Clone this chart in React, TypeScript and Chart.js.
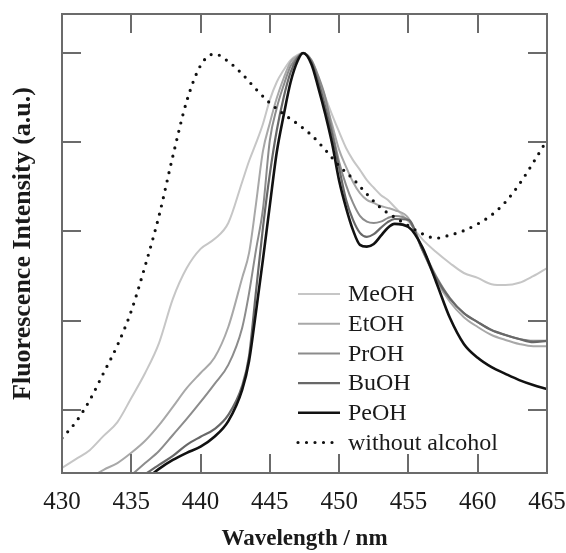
import React, { useEffect, useRef } from "react";
import { Chart, registerables } from "chart.js";

Chart.register(...registerables);

// Wavelength grid (nm) shared by the alcohol spectra
const wavelengths = [
  430, 431, 432, 433, 434, 435, 436, 437, 438, 439, 440, 441, 442, 443, 443.5, 444, 444.5, 445, 445.5, 446,
  446.5, 447, 447.4, 448, 448.5, 449, 449.5, 450, 450.5, 451, 451.5, 452, 452.5, 453, 453.5, 454, 455, 456,
  457, 458, 459, 460, 461, 462, 463, 464, 465,
];

const meoh = [
  0.07, 0.09, 0.11, 0.142, 0.173, 0.227, 0.283, 0.35, 0.449, 0.518, 0.561, 0.583, 0.619, 0.711, 0.758, 0.798,
  0.841, 0.895, 0.935, 0.962, 0.984, 0.996, 1.0, 0.98, 0.944, 0.901, 0.861, 0.823, 0.787, 0.76, 0.738, 0.715,
  0.698, 0.682, 0.671, 0.655, 0.622, 0.583, 0.554, 0.529, 0.507, 0.496, 0.482, 0.48, 0.485, 0.5, 0.518,
];

const etoh = [
  null, null, 0.048, 0.066, 0.081, 0.104, 0.131, 0.166, 0.207, 0.249, 0.283, 0.317, 0.386, 0.496, 0.552, 0.662,
  0.78, 0.843, 0.899, 0.944, 0.98, 0.993, 1.0, 0.984, 0.944, 0.895, 0.839, 0.783, 0.745, 0.711, 0.686, 0.671,
  0.664, 0.657, 0.653, 0.648, 0.63, 0.559, 0.491, 0.442, 0.408, 0.386, 0.368, 0.357, 0.348, 0.343, 0.343,
];

const proh = [
  null, null, null, null, null, 0.054, 0.081, 0.108, 0.144, 0.18, 0.218, 0.258, 0.301, 0.384, 0.462, 0.559,
  0.65, 0.805, 0.877, 0.928, 0.971, 0.991, 1.0, 0.984, 0.948, 0.901, 0.827, 0.756, 0.704, 0.664, 0.635, 0.622,
  0.619, 0.622, 0.63, 0.635, 0.626, 0.563, 0.5, 0.451, 0.417, 0.397, 0.379, 0.368, 0.359, 0.355, 0.355,
];

const buoh = [
  null, null, null, null, null, null, 0.056, 0.077, 0.097, 0.122, 0.14, 0.157, 0.189, 0.254, 0.321, 0.466,
  0.608, 0.729, 0.827, 0.901, 0.957, 0.989, 1.0, 0.98, 0.935, 0.879, 0.816, 0.742, 0.671, 0.626, 0.597, 0.588,
  0.594, 0.608, 0.621, 0.628, 0.626, 0.559, 0.496, 0.449, 0.417, 0.397, 0.379, 0.368, 0.359, 0.352, 0.355,
];

const peoh = [
  null, null, null, null, null, null, 0.043, 0.068, 0.088, 0.104, 0.118, 0.14, 0.175, 0.245, 0.31, 0.42,
  0.537, 0.659, 0.778, 0.861, 0.935, 0.982, 1.0, 0.975, 0.922, 0.863, 0.796, 0.714, 0.653, 0.603, 0.57, 0.566,
  0.572, 0.59, 0.608, 0.617, 0.61, 0.565, 0.487, 0.406, 0.348, 0.317, 0.296, 0.281, 0.267, 0.256, 0.247,
];

// Spectrum without alcohol (1 nm grid)
const noAlcoholWavelengths = [
  430, 431, 432, 433, 434, 435, 436, 437, 438, 439, 440, 441, 442, 443, 444, 445, 446, 447, 448, 449, 450, 451,
  452, 453, 454, 455, 456, 457, 458, 459, 460, 461, 462, 463, 464, 465,
];
const noAlcohol = [
  0.137, 0.173, 0.222, 0.283, 0.345, 0.422, 0.523, 0.635, 0.769, 0.892, 0.972, 0.998, 0.981, 0.953, 0.919,
  0.888, 0.863, 0.841, 0.816, 0.783, 0.747, 0.718, 0.684, 0.653, 0.632, 0.613, 0.595, 0.585, 0.592, 0.602,
  0.617, 0.637, 0.666, 0.706, 0.754, 0.805,
];

const seriesLabels = ["MeOH", "EtOH", "PrOH", "BuOH", "PeOH", "without alcohol"];
const yTicks = [0.2, 0.4, 0.6, 0.8, 1.0];
const xTickStep = 5;

const SERIF = '"Liberation Serif", "Times New Roman", Times, serif';

function pairs(xs: number[], ys: (number | null)[]) {
  return xs.map((x, i) => ({ x, y: ys[i] }));
}

const framePlugin = {
  id: "frameTicks",
  afterDatasetsDraw(chart: any) {
    const { ctx, chartArea, scales } = chart;
    const { left, right, top, bottom } = chartArea;
    const xs = scales.x;
    const ys = scales.y;
    const len = 19;
    ctx.save();
    ctx.strokeStyle = "#6b6b6b";
    ctx.lineWidth = 2;
    ctx.beginPath();
    xs.ticks.forEach((t: any) => {
      if (t.value <= xs.min || t.value >= xs.max) return;
      const px = Math.round(xs.getPixelForValue(t.value));
      ctx.moveTo(px, bottom);
      ctx.lineTo(px, bottom - len);
      ctx.moveTo(px, top);
      ctx.lineTo(px, top + len);
    });
    ys.ticks.forEach((t: any) => {
      const py = Math.round(ys.getPixelForValue(t.value));
      ctx.moveTo(left, py);
      ctx.lineTo(left + len, py);
      ctx.moveTo(right, py);
      ctx.lineTo(right - len, py);
    });
    ctx.stroke();
    ctx.strokeRect(left, top, right - left, bottom - top);
    ctx.restore();
  },
};

const legendPlugin = {
  id: "insideLegend",
  afterDraw(chart: any) {
    const { ctx, chartArea } = chart;
    const x0 = chartArea.left + 236;
    const y0 = chartArea.top + 280;
    const rowH = 29.7;
    const lineLen = 42;
    chart.data.datasets.forEach((ds: any, i: number) => {
      const y = y0 + i * rowH;
      ctx.save();
      ctx.strokeStyle = ds.borderColor;
      ctx.lineWidth = ds.borderWidth;
      ctx.lineCap = ds.borderCapStyle || "butt";
      ctx.setLineDash(ds.borderDash || []);
      ctx.beginPath();
      ctx.moveTo(x0, y);
      ctx.lineTo(x0 + lineLen, y);
      ctx.stroke();
      ctx.setLineDash([]);
      ctx.fillStyle = "#1a1a1a";
      ctx.font = `24px ${SERIF}`;
      ctx.textAlign = "left";
      ctx.textBaseline = "middle";
      ctx.fillText(ds.label, x0 + 50, y + 1);
      ctx.restore();
    });
  },
};

export default function App() {
  const canvasRef = useRef<HTMLCanvasElement | null>(null);

  useEffect(() => {
    const canvas = canvasRef.current;
    if (!canvas) return;
    const solventColors = ["#c6c6c6", "#a8a8a8", "#8c8c8c", "#686868", "#111111"];
    const solventWidths = [2, 2, 2, 2.2, 2.6];
    const solventData = [meoh, etoh, proh, buoh, peoh];
    const datasets: any[] = solventData.map((vals, i) => ({
      label: seriesLabels[i],
      data: pairs(wavelengths, vals),
      borderColor: solventColors[i],
      borderWidth: solventWidths[i],
      cubicInterpolationMode: "monotone",
      pointRadius: 0,
      fill: false,
      spanGaps: false,
      order: 5 - i,
    }));
    datasets.push({
      label: seriesLabels[5],
      data: pairs(noAlcoholWavelengths, noAlcohol),
      borderColor: "#111111",
      borderWidth: 3.2,
      borderDash: [0, 8.5],
      borderCapStyle: "round",
      cubicInterpolationMode: "monotone",
      pointRadius: 0,
      fill: false,
      order: 0,
    });

    const chart = new Chart(canvas, {
      type: "line",
      data: { datasets },
      options: {
        animation: false,
        responsive: false,
        devicePixelRatio: 1,
        layout: { padding: { top: 14, right: 19, left: 0, bottom: 0 } },
        plugins: {
          legend: { display: false },
          tooltip: { enabled: false },
        },
        scales: {
          x: {
            type: "linear",
            min: 430,
            max: 465,
            grid: { display: false },
            border: { display: false },
            ticks: {
              stepSize: xTickStep,
              color: "#1a1a1a",
              font: { family: SERIF, size: 25 },
              padding: 6,
              maxRotation: 0,
              autoSkip: false,
            },
            title: {
              display: true,
              text: "Wavelength / nm",
              color: "#1a1a1a",
              font: { family: SERIF, size: 23, weight: "bold" },
              padding: { top: 0, bottom: 0 },
            },
            afterFit(scale: any) {
              scale.height = 80;
              scale.paddingLeft = 0;
              scale.paddingRight = 0;
            },
          },
          y: {
            type: "linear",
            min: 0.0588,
            max: 1.0874,
            grid: { display: false },
            border: { display: false },
            ticks: { display: false },
            afterBuildTicks(scale: any) {
              scale.ticks = yTicks.map((v) => ({ value: v }));
            },
            title: {
              display: true,
              text: "Fluorescence Intensity (a.u.)",
              color: "#1a1a1a",
              font: { family: SERIF, size: 26, weight: "bold" },
              padding: { top: 8, bottom: 0 },
            },
            afterFit(scale: any) {
              scale.width = 62;
            },
          },
        },
      },
      plugins: [framePlugin, legendPlugin],
    });
    return () => chart.destroy();
  }, []);

  return (
    <div style={{ position: "absolute", left: 0, top: 0, width: 566, height: 553, background: "#fff" }}>
      <canvas ref={canvasRef} width={566} height={553} style={{ display: "block" }} />
    </div>
  );
}
